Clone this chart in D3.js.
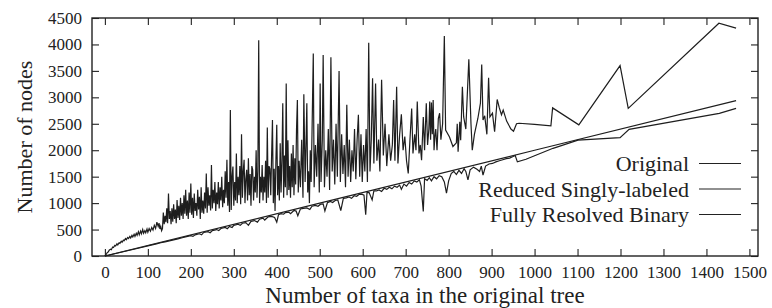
<!DOCTYPE html>
<html>
<head>
<meta charset="utf-8">
<script src="https://cdn.jsdelivr.net/npm/d3@7"></script>
<style>
  body { margin: 0; background: #fff; }
  text { font-family: "Liberation Serif", "Times New Roman", serif; fill: #222; }
</style>
</head>
<body>
<svg id="plot" width="772" height="308"></svg>
<script>
// values: [number of taxa, number of nodes]
var original = [
  [0,0],[3,30],[5,60],[8,80],[10,110],[13,130],[15,120],[18,170],[20,160],[23,200],[25,190],[28,230],[30,210],[33,250],[35,240],
  [38,280],[40,260],[43,300],[45,290],[48,330],[50,310],[53,350],[55,330],[58,370],[60,340],[63,390],[65,360],[68,410],[70,370],
  [73,430],[75,390],[78,460],[80,400],[83,470],[85,420],[88,500],[90,430],[93,480],[95,440],[98,510],[100,450],
  [103,520],[106,470],[109,540],[112,490],[115,580],[118,520],[121,640],[124,560],[126,620],[128,510],[130,560],[132,480],[134,520],
  [136,820],[138,600],[140,760],[142,640],[144,900],[146,620],[148,1180],[150,700],[152,850],[154,600],[156,900],[158,650],[160,980],
  [162,700],[164,880],[166,620],[168,1060],[170,720],
  [172,950],[174,680],[176,1100],[178,760],[180,1000],[182,700],[184,1150],[186,800],[188,1250],[190,760],[192,1050],[194,700],
  [196,1200],[198,820],[200,1370],[202,780],[204,1100],[206,720],[208,1180],[210,850],[212,1000],[214,760],[216,1250],[218,880],
  [220,1120],[222,700],[224,1300],[226,820],[228,1050],[230,800],
  [232,1200],[234,900],[236,1560],[238,820],[240,1300],[242,950],[244,1150],[246,860],[248,1720],[250,900],[252,1250],[254,1000],
  [256,1400],[258,850],[260,1200],[262,980],[264,1400],[266,900],[268,1300],[270,1050],[272,1500],[274,920],[276,1250],[278,1000],
  [280,1600],[282,1100],[284,1820],[286,950],[288,1400],[290,830],[292,2760],[294,870],[296,1500],[298,1690],[300,950],
  [302,1400],[304,1050],[306,1940],[308,1000],[310,1500],[312,1150],[314,1700],[316,980],[318,2300],[320,1100],[322,1600],
  [324,1820],[326,1000],[328,1450],[330,1630],[332,1050],[334,1850],[336,1150],[338,1550],[340,950],[342,1700],[344,1630],
  [346,1050],[348,1500],[350,1200],[352,2000],[354,1100],[356,1600],[358,4080],[360,1000],
  [362,1500],[364,1200],[366,1720],[368,1050],[370,1500],[372,1200],[374,1800],[376,1000],[378,2430],[380,1100],[382,1700],
  [384,1650],[386,1150],[388,1900],[390,2570],[392,1000],[394,1650],[396,850],[398,1800],[400,2480],[402,1150],[404,1700],
  [406,1050],[408,2130],[410,1200],[412,1800],[414,2890],[416,1100],[418,1900],[420,1300],[422,3260],[424,1150],[426,2190],
  [428,1250],[430,1700],[432,1100],[434,1940],[436,1300],[438,2100],[440,1150],[442,1850],[444,1350],[446,2400],[448,2950],[450,1200],
  [452,1800],[455,1300],[458,2200],[461,1100],[463,3060],[466,1400],[468,2100],[470,2890],[472,1200],[474,1600],[476,1000],
  [478,2000],[480,1400],[482,2300],[485,3830],[487,1300],[490,2100],[493,1500],[496,2500],[499,1200],[501,3260],[503,1400],
  [506,2200],[508,3800],[511,1300],[514,2000],[517,1500],[520,2400],[523,1250],[526,3760],[529,1600],[532,2200],[535,1350],
  [538,2500],[541,1500],[545,3500],[548,1400],[551,2300],[554,1550],[557,2100],[560,1300],[563,2860],[566,1500],[569,2200],
  [572,1400],[575,2000],[578,1600],[581,2400],[584,1450],[587,2200],[590,2670],[593,1500],[596,2300],[599,1400],[602,2100],
  [605,1600],[608,2400],[611,1400],
  [614,4030],[617,1600],[620,2200],[623,3360],[626,1750],[630,3260],[633,1800],[637,2200],[640,1600],[644,3330],[648,1900],
  [652,2500],[656,1700],[661,2300],[665,1800],[669,2100],[672,2950],[675,1800],[679,3200],[682,1750],[686,2300],[690,2680],
  [694,2000],[698,2260],[702,1800],[706,1560],[710,2200],[714,2790],[717,1940],[721,2300],[724,2000],[727,2920],[731,1940],
  [734,2100],[737,1810],[741,2630],[744,2000],[748,2890],[751,2100],[754,2400],[756,2920],[758,2200],[760,2900],[762,2300],
  [764,2950],[766,2000],[768,2260],[770,2400],[773,2000],[776,2600],[779,2700],[782,2200],[786,2500],[790,4160],[793,2380],
  [802,2250],[810,2070],[818,2140],[820,2500],[822,1970],[826,2540],[828,2190],[832,3200],[835,2630],[840,2400],[847,3720],
  [852,2500],[855,2000],[860,2300],[868,2600],[874,2890],[877,3620],[880,2570],[884,2650],[889,2300],[893,3370],[896,2630],
  [902,2700],[907,2350],[913,2960],[918,2800],[923,2670],[927,2760],[935,2550],[945,2400],[951,2360],[958,2500],[964,2510],
  [1000,2490],[1038,2460],[1042,2800],[1103,2480],[1199,3600],[1218,2790],[1429,4400],[1469,4310]
];

var reduced = [
  [0,0],[10,18],[20,38],[30,56],[40,76],[50,95],[60,114],[70,132],[80,152],[90,170],[100,190],[110,210],[120,228],[130,250],
  [140,268],[150,285],[160,305],[170,325],[180,345],[190,365],[200,385],[205,370],[210,400],[220,420],[225,400],[230,445],
  [240,460],[245,440],[250,480],[260,500],[265,480],[270,520],[280,540],[285,515],[290,560],[296,540],[300,580],[310,600],
  [315,580],[320,620],[328,630],[334,580],[340,655],[348,670],[355,640],[360,695],[368,715],[372,680],[380,740],[388,750],
  [395,730],[400,640],[404,780],[410,800],[416,790],[420,820],[428,830],[432,800],[440,860],[445,850],[449,760],[455,890],
  [462,900],[470,910],[477,880],[482,940],[490,955],[496,940],[502,980],[508,985],[512,850],[518,1010],[525,1030],[530,1010],
  [536,1050],[542,1060],[549,860],[555,1090],[562,1100],[568,1115],[574,1090],[580,1140],[586,1130],[592,1165],[598,1170],
  [603,1150],[607,780],[610,1200],[615,1200],[622,1060],[626,1230],[632,1230],[638,1250],[644,1220],[650,1280],[656,1260],
  [662,1300],[668,1270],[674,1320],[680,1300],[686,1340],[690,1260],[696,1360],[702,1320],[708,1390],[714,1360],[720,1420],
  [726,1400],[732,1440],[736,1320],[741,840],[744,1460],[750,1430],[755,1480],[760,1420],[766,1500],[772,1460],[778,1520],
  [784,1500],[790,1400],[795,1190],[800,1420],[806,1560],[812,1600],[818,1540],[824,1620],[830,1560],[836,1650],[840,1600],
  [845,1440],[850,1630],[858,1680],[866,1640],[872,1600],[876,1700],[880,1530],[886,1700],[894,1740],[902,1750],[910,1780],
  [918,1800],[926,1820],[934,1840],[942,1850],[950,1880],[955,1900],[960,1780],[980,1830],[1043,2036],[1101,2190],
  [1199,2237],[1220,2395],[1430,2698],[1469,2792]
];

var binary = [[0,0],[500,999],[1000,1999],[1469,2937]];

var xTicks = [0,100,200,300,400,500,600,700,800,900,1000,1100,1200,1300,1400,1500];
var yTicks = [0,500,1000,1500,2000,2500,3000,3500,4000,4500];
var legendNames = ["Original", "Reduced Singly-labeled", "Fully Resolved Binary"];

function init_plot() {
    var svg = d3.select("#plot"),
        margin = {top: 18, right: 14, bottom: 52, left: 92},
        x0 = margin.left,
        x1 = +svg.attr("width") - margin.right,
        y0 = margin.top,
        y1 = +svg.attr("height") - margin.bottom;

    var x = d3.scaleLinear().domain([-30, 1520]).range([x0, x1]);
    var y = d3.scaleLinear().domain([0, 4500]).range([y1, y0]);

    // axes, ticks point inward on all four sides
    svg.append("g").attr("transform", "translate(0," + y1 + ")")
        .call(d3.axisBottom(x).tickValues(xTicks).tickSize(-7).tickPadding(10).tickFormat(d3.format("d")));
    svg.append("g").attr("transform", "translate(0," + y0 + ")")
        .call(d3.axisTop(x).tickValues(xTicks).tickSize(-7).tickFormat(""));
    svg.append("g").attr("transform", "translate(" + x0 + ",0)")
        .call(d3.axisLeft(y).tickValues(yTicks).tickSize(-7).tickPadding(10).tickFormat(d3.format("d")));
    svg.append("g").attr("transform", "translate(" + x1 + ",0)")
        .call(d3.axisRight(y).tickValues(yTicks).tickSize(-7).tickFormat(""));

    svg.selectAll(".domain").remove();
    svg.selectAll(".tick line").attr("stroke", "#222").attr("stroke-width", 1.1);
    svg.selectAll(".tick text")
        .attr("font-family", "Liberation Serif")
        .attr("font-size", 17)
        .attr("fill", "#222");

    svg.append("rect")
        .attr("x", x0).attr("y", y0)
        .attr("width", x1 - x0).attr("height", y1 - y0)
        .attr("fill", "none").attr("stroke", "#222").attr("stroke-width", 1.4);

    var line = d3.line()
        .x(function (d) { return x(d[0]); })
        .y(function (d) { return y(d[1]); });

    [original, reduced, binary].forEach(function (s) {
        svg.append("path")
            .attr("d", line(s))
            .attr("fill", "none")
            .attr("stroke", "#1e1e1e")
            .attr("stroke-width", 1.2);
    });

    // legend
    legendNames.forEach(function (name, i) {
        var ly = 163.5 + i * 25.5;
        svg.append("text")
            .attr("x", 689).attr("y", ly + 7.5)
            .attr("text-anchor", "end")
            .attr("font-size", 22)
            .text(name);
        svg.append("line")
            .attr("x1", 699).attr("x2", 741)
            .attr("y1", ly).attr("y2", ly)
            .attr("stroke", "#222").attr("stroke-width", 1.1);
    });

    // axis titles
    svg.append("text")
        .attr("x", (x0 + x1) / 2).attr("y", 303)
        .attr("text-anchor", "middle")
        .attr("font-size", 23)
        .text("Number of taxa in the original tree");

    svg.append("text")
        .attr("transform", "translate(32," + (y0 + y1) / 2 + ") rotate(-90)")
        .attr("text-anchor", "middle")
        .attr("font-size", 22)
        .text("Number of nodes");
}

init_plot();
</script>
</body>
</html>
